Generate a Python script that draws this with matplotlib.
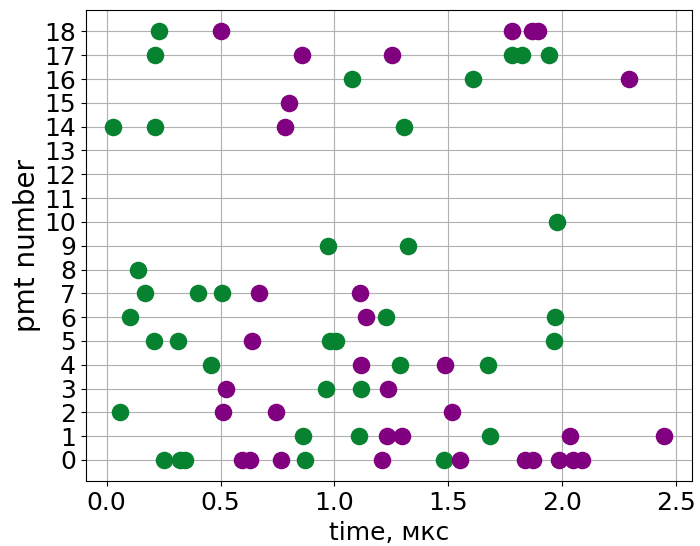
import numpy as np
import matplotlib
matplotlib.use("Agg")
import matplotlib.pyplot as plt

# green hits: (time, pmt)
green_t = [0.228, 0.214, 1.076, 0.029, 0.214, 0.971,
           1.781, 1.822, 1.943, 1.610, 1.304, 1.975, 1.322,
           0.138, 0.167, 0.401, 0.506, 0.101, 1.227,
           0.206, 0.314, 0.982, 1.006, 0.458, 1.290, 1.675,
           0.962, 1.117, 0.057, 0.861, 1.108, 1.684,
           0.253, 0.323, 0.345, 0.871, 1.483, 1.970, 1.965]
green_pmt = [18, 17, 16, 14, 14, 9,
             17, 17, 17, 16, 14, 10, 9,
             8, 7, 7, 7, 6, 6,
             5, 5, 5, 5, 4, 4, 4,
             3, 3, 2, 1, 1, 1,
             0, 0, 0, 0, 0, 6, 5]

# purple hits
purple_t = [0.500, 0.857, 1.254, 0.801, 0.784,
            1.781, 1.866, 1.892, 2.294,
            0.671, 1.113, 1.138, 0.638, 1.117, 1.486,
            0.524, 1.234, 0.513, 0.743, 1.515,
            1.230, 1.298, 2.034, 2.447,
            0.594, 0.630, 0.766, 1.208, 1.551, 1.836, 1.873, 1.986, 2.048, 2.085]
purple_pmt = [18, 17, 17, 15, 14,
              18, 18, 18, 16,
              7, 7, 6, 5, 4, 4,
              3, 3, 2, 2, 2,
              1, 1, 1, 1,
              0, 0, 0, 0, 0, 0, 0, 0, 0, 0]

fig = plt.figure(figsize=(7, 5.46), dpi=100)
ax = fig.add_axes([0.1224, 0.1183, 0.8656, 0.8634])

ax.scatter(green_t, green_pmt, s=135, color="#078230", zorder=3)
ax.scatter(purple_t, purple_pmt, s=135, color="purple", zorder=3)

ax.set_yticks(np.arange(0, 19, 1))
ax.set_xticks([0.0, 0.5, 1.0, 1.5, 2.0, 2.5])
ax.grid(True)
ax.tick_params(labelsize=18)
ax.set_xlabel("time, мкс", fontsize=18)
ax.set_ylabel("pmt number", fontsize=20, labelpad=2)

fig.savefig("out.png", dpi=100)
